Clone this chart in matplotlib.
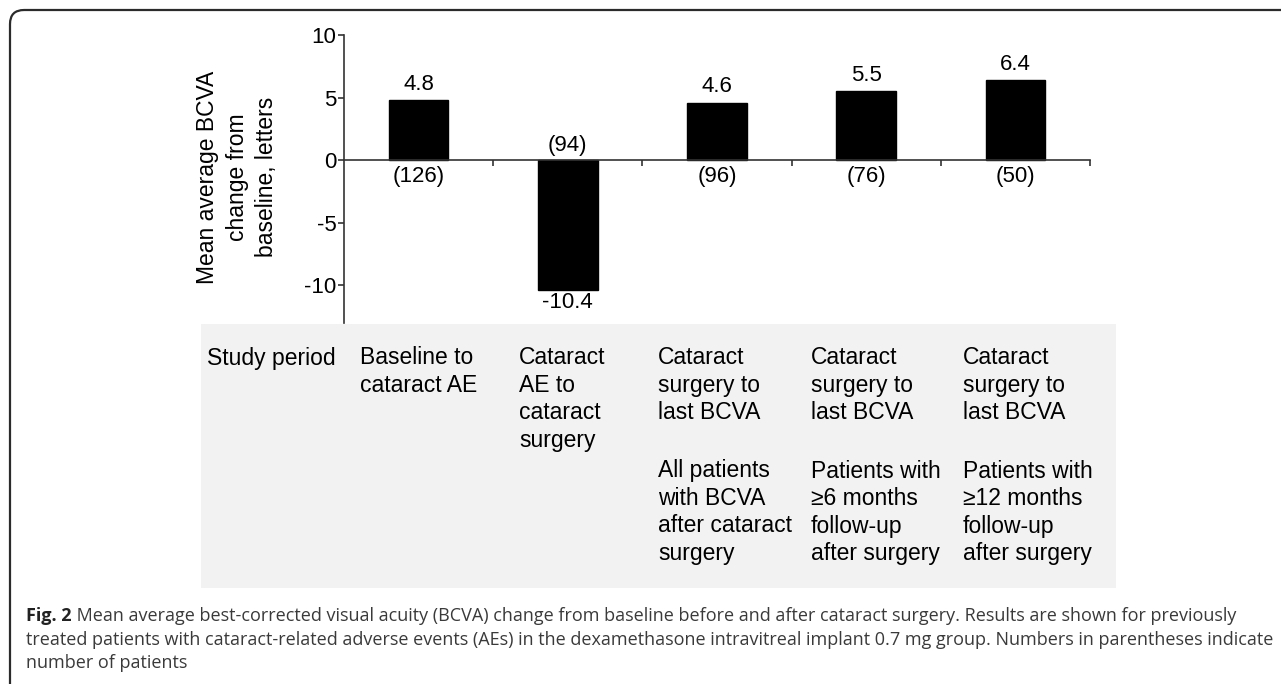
import matplotlib
matplotlib.use("Agg")
import matplotlib.pyplot as plt
from matplotlib.patches import FancyBboxPatch, Rectangle

values = [4.8, -10.4, 4.6, 5.5, 6.4]
n_patients = ["(126)", "(94)", "(96)", "(76)", "(50)"]
yticks = [-10, -5, 0, 5, 10]

table_header = ["Study period"]
table_period = [["Baseline to", "cataract AE"],
                ["Cataract", "AE to", "cataract", "surgery"],
                ["Cataract", "surgery to", "last BCVA"],
                ["Cataract", "surgery to", "last BCVA"],
                ["Cataract", "surgery to", "last BCVA"]]
table_group = [[], [],
               ["All patients", "with BCVA", "after cataract", "surgery"],
               ["Patients with", "\u22656 months", "follow-up", "after surgery"],
               ["Patients with", "\u226512 months", "follow-up", "after surgery"]]

ylabel_lines = ["Mean average BCVA", "change from", "baseline, letters"]
caption_bold = "Fig. 2"
caption_lines = [" Mean average best-corrected visual acuity (BCVA) change from baseline before and after cataract surgery. Results are shown for previously",
                 "treated patients with cataract-related adverse events (AEs) in the dexamethasone intravitreal implant 0.7 mg group. Numbers in parentheses indicate",
                 "number of patients"]

W, H = 1281, 684
fig = plt.figure(figsize=(W/100, H/100), dpi=100)
plt.rcParams['font.family'] = ['Liberation Sans', 'DejaVu Sans']

def fx(px): return px / W
def fy(py): return 1 - py / H

# frame with rounded top-left corner
frame = FancyBboxPatch((fx(10), fy(760)), fx(1400), fy(10) - fy(760),
                       boxstyle="round,pad=0,rounding_size=0.011",
                       transform=fig.transFigure, fill=False,
                       edgecolor="#2b2b2b", linewidth=1.6, mutation_aspect=W/H)
fig.patches.append(frame)

# grey table background
fig.patches.append(Rectangle((fx(201), fy(588)), fx(1116) - fx(201), fy(324) - fy(588),
                             transform=fig.transFigure, facecolor="#f2f2f2",
                             edgecolor="none", zorder=0))

ax = fig.add_axes([fx(344), fy(323), fx(1090) - fx(344), fy(35) - fy(323)])
ax.set_facecolor("none")
x = [i + 0.5 for i in range(len(values))]
ax.bar(x, values, width=0.4, color="black", edgecolor="black")
ax.set_xlim(0, 5)
ax.set_ylim(-13, 10)
ax.set_yticks(yticks)
ax.set_yticklabels([str(t) for t in yticks], fontsize=16)
ax.set_xticks([1, 2, 3, 4, 5])
ax.set_xticklabels([])
for s in ["top", "right"]:
    ax.spines[s].set_visible(False)
ax.spines["bottom"].set_position(("data", 0))
ax.spines["left"].set_bounds(-13, 10)
for s in ["bottom", "left"]:
    ax.spines[s].set_color("#333333")
    ax.spines[s].set_linewidth(1.2)
ax.tick_params(axis="y", direction="out", length=4.5, width=1.2, color="#333333", pad=1)
ax.tick_params(axis="x", direction="out", length=4, width=1.2, color="#333333")

for xi, v, n in zip(x, values, n_patients):
    if v >= 0:
        ax.annotate(f"{v}", (xi, v), xytext=(0, 4), textcoords="offset points",
                    ha="center", va="bottom", fontsize=16)
        ax.annotate(n, (xi, 0), xytext=(0, -4), textcoords="offset points",
                    ha="center", va="top", fontsize=16)
    else:
        ax.annotate(f"{v}", (xi, v), xytext=(0, -1), textcoords="offset points",
                    ha="center", va="top", fontsize=16)
        ax.annotate(n, (xi, 0), xytext=(0, 3), textcoords="offset points",
                    ha="center", va="bottom", fontsize=16)

for lx, line in zip([207, 237, 267], ylabel_lines):
    fig.text(fx(lx), fy(177), line, rotation=90, ha="center", va="center",
             fontsize=16.5)

# table text
fs = 16.5
def put_lines(x0, y0, lines, step=27.5):
    for i, line in enumerate(lines):
        fig.text(fx(x0), fy(y0 + i * step), line, ha="left", va="center", fontsize=fs)

put_lines(207, 358, table_header)
col_x = [360, 519, 658, 811, 963]
for cx, p, g in zip(col_x, table_period, table_group):
    put_lines(cx, 358, p)
    if g:
        put_lines(cx, 471, g)

# caption
cap_y = [616, 640, 663]
cap_fs = 12.95
t = fig.text(fx(26), fy(cap_y[0]), caption_bold, ha="left", va="center",
             fontsize=cap_fs, fontweight="bold", family="Open Sans", color="#222222")
fig.canvas.draw()
bb = t.get_window_extent()
fig.text(bb.x1 / W, fy(cap_y[0]), caption_lines[0], ha="left", va="center",
         fontsize=cap_fs, family="Open Sans", color="#3a3a3a")
for yy, line in zip(cap_y[1:], caption_lines[1:]):
    fig.text(fx(26), fy(yy), line, ha="left", va="center", fontsize=cap_fs,
             family="Open Sans", color="#3a3a3a")

fig.savefig("out.png", dpi=100)
